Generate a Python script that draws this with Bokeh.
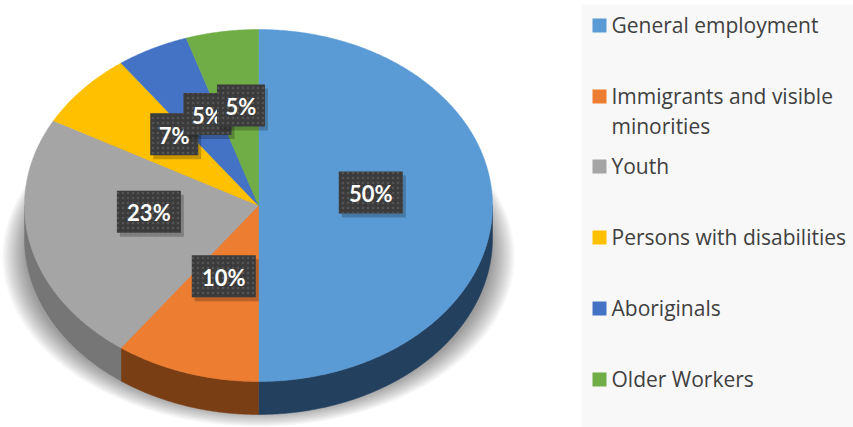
import math
from bokeh.plotting import figure
from bokeh.models import Range1d
from bokeh.core.properties import value
from bokeh.embed import file_html
from bokeh.resources import INLINE

# ---- data ----
categories = ["General employment", "Immigrants and visible minorities", "Youth",
              "Persons with disabilities", "Aboriginals", "Older Workers"]
values = [50, 10, 23, 7, 5, 5]
legend_lines = [["General employment"], ["Immigrants and visible", "minorities"], ["Youth"],
                ["Persons with disabilities"], ["Aboriginals"], ["Older Workers"]]
top_colors = ["#5B9BD5", "#ED7D31", "#A5A5A5", "#FFC000", "#4472C4", "#70AD47"]
side_colors = ["#24405F", "#7A3E14", "#767676", "#9C7500", "#284479", "#446A2A"]

# ---- geometry (page pixel coords; y grows downward via flipped range) ----
CX, CY, RX, RY, DEPTH = 258.0, 205.0, 234.0, 176.0, 33.0

W, H = 853, 427
p = figure(width=W, height=H, output_backend="svg", toolbar_location=None,
           x_range=Range1d(0, W), y_range=Range1d(H, 0),
           min_border=0, outline_line_color=None, background_fill_color="white",
           border_fill_color="white")
p.axis.visible = False
p.grid.visible = False

def pt(theta, dy=0.0):
    return CX + RX * math.sin(theta), CY - RY * math.cos(theta) + dy

# soft shadow
N = 14
for k in range(N):
    f = k / (N - 1)
    rx = 256 - 22 * f
    ry = 170 - 12 * f
    cy = 256 - 4 * f
    xs = [258 + rx * math.cos(t / 90 * math.pi) for t in range(180)]
    ys = [cy + ry * math.sin(t / 90 * math.pi) for t in range(180)]
    p.patch(xs, ys, fill_color="black", fill_alpha=0.033, line_color=None)

total = float(sum(values))
cum = 0.0
spans = []
for v in values:
    a0 = 2 * math.pi * cum / total
    cum += v
    a1 = 2 * math.pi * cum / total
    spans.append((a0, a1))

# side faces (visible between 90deg and 270deg clockwise from top)
for (a0, a1), col in zip(spans, side_colors):
    lo, hi = max(a0, math.pi / 2), min(a1, 3 * math.pi / 2)
    if hi <= lo:
        continue
    n = max(4, int((hi - lo) / 0.01))
    ths = [lo + (hi - lo) * i / n for i in range(n + 1)]
    top = [pt(t) for t in ths]
    bot = [pt(t, DEPTH) for t in reversed(ths)]
    xs = [q[0] for q in top + bot]
    ys = [q[1] for q in top + bot]
    p.patch(xs, ys, fill_color=col, line_color=col, line_width=0.5)

# top faces
for (a0, a1), col in zip(spans, top_colors):
    n = max(4, int((a1 - a0) / 0.01))
    ths = [a0 + (a1 - a0) * i / n for i in range(n + 1)]
    pts = [(CX, CY)] + [pt(t) for t in ths]
    p.patch([q[0] for q in pts], [q[1] for q in pts], fill_color=col,
            line_color=col, line_width=0.5)

# data labels
for (a0, a1), v in zip(spans, values):
    m = (a0 + a1) / 2
    x = CX + 0.48 * RX * math.sin(m)
    y = CY - 13 - 0.5 * RY * math.cos(m)
    txt = f"{v}%"
    w = 16 * len(txt) + 16
    p.quad(left=x - w / 2 + 3, right=x + w / 2 + 3, top=y - 21 + 4, bottom=y + 21 + 4,
           fill_color="black", fill_alpha=0.22, line_color=None)
    p.quad(left=x - w / 2, right=x + w / 2, top=y - 21, bottom=y + 21,
           fill_color="#3B3B3B", line_color=None,
           hatch_pattern="dot", hatch_color="#5a5a5a", hatch_scale=5, hatch_alpha=0.8)
    p.text(x=[x], y=[y + 1], text=[txt], text_color="white", text_align="center",
           text_baseline="middle", text_font=value("Lato"), text_font_style="bold",
           text_font_size="22px")

# legend panel
p.quad(left=581, right=W, top=4, bottom=H, fill_color="#F8F8F8", line_color=None)
leg_y = [25, 96, 166, 237, 308, 379]
for yc, lines, col in zip(leg_y, legend_lines, top_colors):
    p.quad(left=592, right=606, top=yc - 7, bottom=yc + 7, fill_color=col, line_color=None)
    for j, ln in enumerate(lines):
        p.text(x=[611], y=[yc - 1 + 30 * j], text=[ln], text_color="#404040",
               text_align="left", text_baseline="middle", text_font=value("Open Sans"),
               text_font_size="21px")

open("out.html", "w").write(file_html(p, INLINE))
